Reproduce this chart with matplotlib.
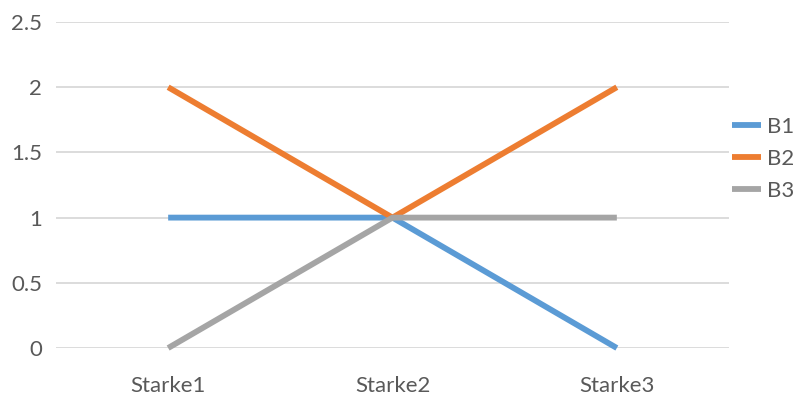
import matplotlib.pyplot as plt

categories = ["Starke1", "Starke2", "Starke3"]
b1 = [1, 1, 0]
b2 = [2, 1, 2]
b3 = [0, 1, 1]
series_names = ["B1", "B2", "B3"]
colors = ["#5B9BD5", "#ED7D31", "#A5A5A5"]
y_ticks = [0, 0.5, 1, 1.5, 2, 2.5]
y_labels = ["0", "0.5", "1", "1.5", "2", "2.5"]

plt.rcParams["font.family"] = ["Lato", "DejaVu Sans"]

fig = plt.figure(figsize=(7.93, 4.04), dpi=100)
ax = fig.add_axes([0.0706, 0.1386, 0.8487, 0.8069])

x = list(range(len(categories)))
for vals, name, c in zip([b1, b2, b3], series_names, colors):
    ax.plot(x, vals, color=c, lw=4.2, label=name, solid_capstyle="butt", clip_on=False)

ax.set_xlim(-0.5, 2.5)
ax.set_ylim(0, 2.5)
ax.set_yticks(y_ticks)
ax.set_yticklabels(y_labels)
ax.set_xticks(x)
ax.set_xticklabels(categories)
ax.grid(axis="y", color="#D9D9D9", lw=1.3)
ax.set_axisbelow(True)
ax.tick_params(length=0, labelsize=16, labelcolor="#595959")
ax.tick_params(axis="y", pad=10)
ax.tick_params(axis="x", pad=20)
for s in ax.spines.values():
    s.set_visible(False)

ax.legend(loc="center left", bbox_to_anchor=(1.004, 0.58), frameon=False,
          fontsize=16, labelcolor="#595959", handlelength=1.3,
          handletextpad=0.3, labelspacing=0.55, borderpad=0, borderaxespad=0)

fig.savefig("out.png", dpi=100)
